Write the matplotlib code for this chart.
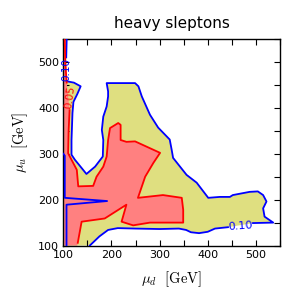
import matplotlib
matplotlib.use("Agg")
import matplotlib.pyplot as plt
from matplotlib.ticker import MultipleLocator

plt.rcParams['mathtext.fontset'] = 'cm'
plt.rcParams['font.family'] = ['DejaVu Sans']

# ---- data (mu_d, mu_u in GeV) ----
# outer 0.10 contour (closed along left/bottom axes for filling)
blue_outer_d = [100, 107, 106, 107, 122, 136, 129, 121, 119, 117, 117, 124, 138, 148, 166, 182,
                183, 180, 183, 190, 193, 193, 190, 218, 249, 256, 263, 280, 297, 321, 325, 328,
                356, 377, 401, 425, 446, 452, 487, 504, 515, 522, 515, 518, 536, 494, 442, 415,
                400, 382, 365, 355, 340, 300, 250, 213, 193, 175, 155, 100]
blue_outer_u = [550, 550, 510, 458, 455, 447, 430, 413, 389, 330, 298, 287, 269, 256, 272, 294,
                330, 352, 381, 403, 425, 436, 454, 454, 454, 447, 425, 385, 357, 331, 309, 291,
                254, 237, 204, 206, 206, 210, 217, 218, 210, 196, 181, 163, 150, 149, 140, 137,
                130, 127, 129, 134, 137, 136, 137, 138, 134, 120, 100, 100]
# indices where the line is broken for contour labels
blue_gap_after = [2, 45]

# 0.05 contour (closed along left/bottom axes)
red_d = [100, 103, 104, 107, 113, 111, 110, 128, 131, 162, 169, 183, 190, 193, 197, 214, 219,
         219, 231, 249, 301, 287, 270, 255, 307, 346, 349, 349, 280, 245, 221, 231, 186, 138,
         130, 129, 100]
red_u = [550, 550, 500, 455, 395, 350, 301, 265, 229, 230, 250, 272, 294, 330, 356, 367, 363,
         330, 326, 327, 302, 280, 250, 204, 210, 204, 178, 150, 150, 144, 152, 189, 159, 152,
         106, 100, 100]
red_gap_after = [3]

# inner 0.10 contour near the left edge
blue_inner_d = [100, 103, 103, 191, 106.6, 106.6]
blue_inner_u = [300, 296, 204, 197, 189, 100]

levels = ['0.05', '0.10']
title = 'heavy sleptons'

fig = plt.figure(figsize=(2.98, 2.98), dpi=100)
ax = fig.add_axes([0.2125, 0.176, 0.727, 0.693])

ax.fill(blue_outer_d, blue_outer_u, color='#dfdf80', lw=0, zorder=1)
ax.fill(red_d, red_u, color='#ff8080', lw=0, zorder=2)


def draw_broken(xs, ys, gaps, color):
    start = 0
    bounds = list(gaps) + [len(xs) - 1]
    for g in bounds:
        ax.plot(xs[start:g + 1], ys[start:g + 1], color=color, lw=1.3, zorder=4,
                solid_joinstyle='round', clip_on=True)
        start = g + 1


# drop the closing edges along the axes for the lines
draw_broken(blue_outer_d[1:-1], blue_outer_u[1:-1], [g - 1 for g in blue_gap_after], 'blue')
draw_broken(red_d[1:-2], red_u[1:-2], [g - 1 for g in red_gap_after], 'red')
ax.plot(blue_inner_d, blue_inner_u, color='blue', lw=1.3, zorder=4)

# contour labels
ax.text(106, 484, levels[1], color='blue', fontsize=7.5, rotation=90,
        ha='center', va='center', zorder=5)
ax.text(113, 424, levels[0], color='red', fontsize=7.5, rotation=82,
        ha='center', va='center', zorder=5)
ax.text(468, 142, levels[1], color='blue', fontsize=8, rotation=4,
        ha='center', va='center', zorder=5)

ax.set_xlim(100, 550)
ax.set_ylim(100, 550)
ax.xaxis.set_major_locator(MultipleLocator(100))
ax.yaxis.set_major_locator(MultipleLocator(100))
ax.xaxis.set_minor_locator(MultipleLocator(50))
ax.yaxis.set_minor_locator(MultipleLocator(50))
ax.tick_params(which='both', direction='in', top=True, right=True, length=4,
               width=0.8, labelsize=8, pad=3)
for s in ax.spines.values():
    s.set_linewidth(1.0)

ax.set_title(title, fontsize=11, pad=8)
ax.set_xlabel(r'$\mu_d\ \ [\mathrm{GeV}]$', fontsize=10.5, labelpad=7)
ax.set_ylabel(r'$\mu_u\ \ [\mathrm{GeV}]$', fontsize=10.5, labelpad=6)

fig.savefig('out.png', dpi=100)
